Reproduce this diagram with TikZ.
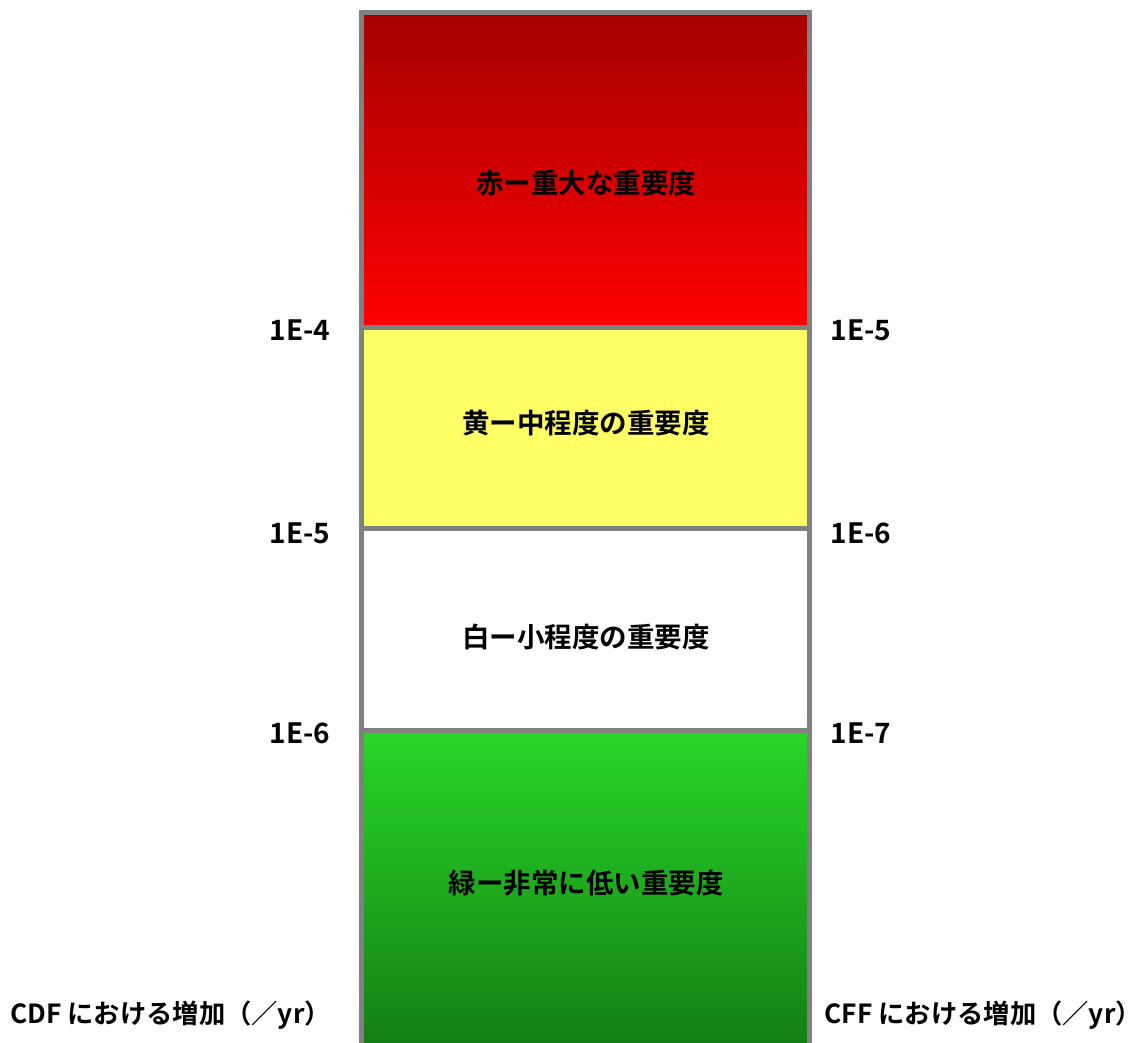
\documentclass[tikz,border=0pt]{standalone}
\usepackage{fontspec}
\setmainfont{Noto Sans CJK JP}[BoldFont={* Bold}]
\newfontfamily\jp{Noto Sans CJK JP Bold}
\definecolor{bordergray}{RGB}{128,128,128}
\definecolor{redtop}{RGB}{165,0,0}
\definecolor{redbot}{RGB}{255,0,0}
\definecolor{yellowfill}{RGB}{255,255,102}
\definecolor{greentop}{RGB}{40,215,40}
\definecolor{greenbot}{RGB}{20,125,20}
\begin{document}
\begin{tikzpicture}[x=1pt,y=-1pt,
  band/.style={draw=bordergray,line width=5pt},
  bandtext/.style={font=\jp\fontsize{27.5}{32}\selectfont,text=black},
  lvl/.style={font=\jp\fontsize{28}{32}\selectfont,text=black},
  axis/.style={font=\jp\fontsize{26.3}{30}\selectfont,text=black,inner sep=2pt}]
\useasboundingbox (0,0) rectangle (1148,1043);
% bands
\shade[top color=redtop,bottom color=redbot] (361,13) rectangle (809,327);
\fill[yellowfill] (361,327) rectangle (809,528);
\fill[white] (361,528) rectangle (809,730);
\shade[top color=greentop,bottom color=greenbot] (361,730) rectangle (809,1050);
% borders
\draw[band] (361,1050) -- (361,13) -- (809,13) -- (809,1050);
\draw[band] (361,327) -- (809,327);
\draw[band] (361,528) -- (809,528);
\draw[band] (361,730) -- (809,730);
% band labels
\node[bandtext] (red) at (586,183) {赤ー重大な重要度};
\node[bandtext] (yel) at (586,423) {黄ー中程度の重要度};
\node[bandtext] (wht) at (586,637) {白ー小程度の重要度};
\node[bandtext] (grn) at (586,883) {緑ー非常に低い重要度};
% left levels
\node[lvl,anchor=east] (l1) at (334,330) {1E-4};
\node[lvl,anchor=east] (l2) at (334,533) {1E-5};
\node[lvl,anchor=east] (l3) at (334,733) {1E-6};
% right levels
\node[lvl,anchor=west] (r1) at (827,330) {1E-5};
\node[lvl,anchor=west] (r2) at (827,533) {1E-6};
\node[lvl,anchor=west] (r3) at (827,733) {1E-7};
% axis labels
\node[axis,anchor=west] (cdf) at (8,1015) {CDF における増加（／yr）};
\node[axis,anchor=east] (cff) at (1144,1015) {CFF における増加（／yr）};
\end{tikzpicture}
\end{document}
